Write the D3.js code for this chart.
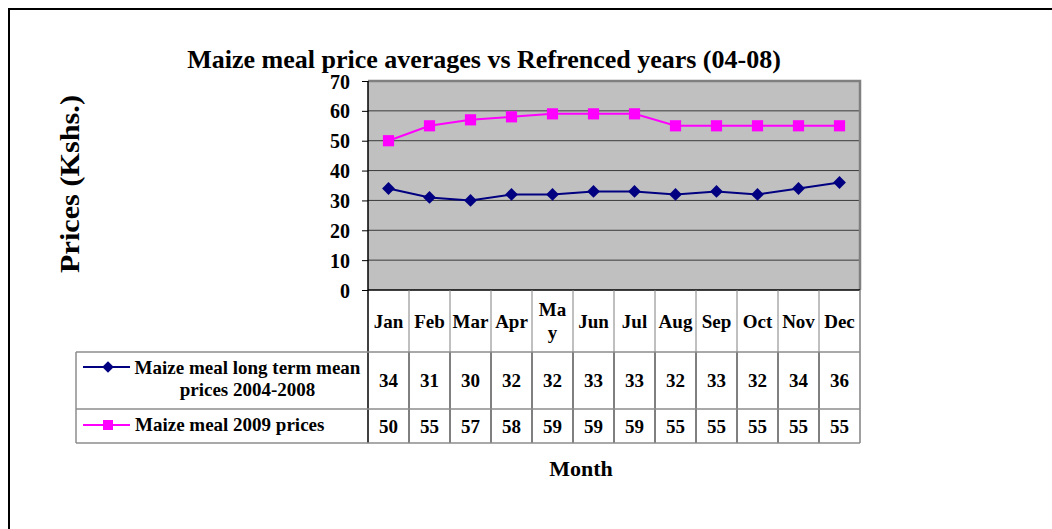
<!DOCTYPE html>
<html>
<head>
<meta charset="utf-8">
<script src="https://cdn.jsdelivr.net/npm/d3@7"></script>
<style>
  body { margin: 0; background: #fff; }
  text { font-family: "Liberation Serif", "Times New Roman", serif; font-weight: bold; fill: #000; }
</style>
</head>
<body>
<div id="chart"></div>
<script>
var months = ["Jan","Feb","Mar","Apr","May","Jun","Jul","Aug","Sep","Oct","Nov","Dec"];
var longTerm = [34,31,30,32,32,33,33,32,33,32,34,36];
var prices2009 = [50,55,57,58,59,59,59,55,55,55,55,55];
var yTicks = [0,10,20,30,40,50,60,70];
var seriesNames = [["Maize meal long term mean", "prices 2004-2008"], ["Maize meal 2009 prices"]];

var w = 1052, h = 529;
var plotLeft = 368, plotRight = 860, plotTop = 81, plotBottom = 290;
var rowY = [290, 352, 409, 443];
var legendLeft = 76;

var svg = d3.select("#chart").append("svg")
  .attr("width", w)
  .attr("height", h);

// outer frame
svg.append("rect")
  .attr("x", 9).attr("y", 9)
  .attr("width", 1100).attr("height", 600)
  .attr("fill", "none").attr("stroke", "#000").attr("stroke-width", 2);

var x = d3.scaleBand().domain(months).range([plotLeft, plotRight]);
var y = d3.scaleLinear().domain([0, 70]).range([plotBottom, plotTop]);

// plot area
svg.append("rect")
  .attr("x", plotLeft).attr("y", plotTop)
  .attr("width", plotRight - plotLeft).attr("height", plotBottom - plotTop)
  .attr("fill", "#c0c0c0");

svg.selectAll("line.grid")
  .data(yTicks.slice(1, -1))
  .enter().append("line")
  .attr("x1", plotLeft).attr("x2", plotRight)
  .attr("y1", function(d) { return y(d); })
  .attr("y2", function(d) { return y(d); })
  .attr("stroke", "#3a3a3a").attr("stroke-width", 1);

// plot border top/right
svg.append("path")
  .attr("d", "M" + plotLeft + "," + plotTop + "H" + plotRight + "V" + plotBottom)
  .attr("fill", "none").attr("stroke", "#808080").attr("stroke-width", 2.5);

// y axis
var yAxis = d3.axisLeft(y).tickValues(yTicks).tickSize(6).tickPadding(12);
var gy = svg.append("g").attr("transform", "translate(" + plotLeft + ",0)").call(yAxis);
gy.select(".domain").remove();
gy.selectAll(".tick line").attr("stroke", "#000");
gy.selectAll(".tick text")
  .attr("font-size", 20)
  .attr("font-family", "Liberation Serif")
  .attr("font-weight", "bold")
  .attr("dy", "0.35em");

// table lines
svg.append("line")
  .attr("x1", plotLeft).attr("x2", plotLeft)
  .attr("y1", plotTop).attr("y2", rowY[3])
  .attr("stroke", "#000").attr("stroke-width", 1.5);
svg.append("line")
  .attr("x1", plotLeft).attr("x2", plotRight)
  .attr("y1", plotBottom).attr("y2", plotBottom)
  .attr("stroke", "#000").attr("stroke-width", 1.5);

var cuts = months.slice(1).map(function(m) { return x(m); });
svg.selectAll("line.hv")
  .data(cuts).enter().append("line")
  .attr("x1", function(d) { return d; }).attr("x2", function(d) { return d; })
  .attr("y1", rowY[0]).attr("y2", rowY[1])
  .attr("stroke", "#808080").attr("stroke-width", 1);
svg.selectAll("line.dv")
  .data(cuts).enter().append("line")
  .attr("x1", function(d) { return d; }).attr("x2", function(d) { return d; })
  .attr("y1", rowY[1]).attr("y2", rowY[3])
  .attr("stroke", "#000").attr("stroke-width", 1);
svg.append("line")
  .attr("x1", plotRight).attr("x2", plotRight)
  .attr("y1", rowY[0]).attr("y2", rowY[3])
  .attr("stroke", "#808080").attr("stroke-width", 1.5);
svg.selectAll("line.hr")
  .data(rowY.slice(1)).enter().append("line")
  .attr("x1", legendLeft).attr("x2", plotRight)
  .attr("y1", function(d) { return d; }).attr("y2", function(d) { return d; })
  .attr("stroke", "#8c8c8c").attr("stroke-width", 1.5);
svg.append("line")
  .attr("x1", legendLeft).attr("x2", legendLeft)
  .attr("y1", rowY[1]).attr("y2", rowY[3])
  .attr("stroke", "#8c8c8c").attr("stroke-width", 1.5);

// header month labels
var cx = function(m) { return x(m) + x.bandwidth() / 2; };
months.forEach(function(m) {
  if (m === "May") {
    svg.append("text").attr("x", cx(m)).attr("y", 316).attr("text-anchor", "middle").attr("font-size", 19).text("Ma");
    svg.append("text").attr("x", cx(m)).attr("y", 339).attr("text-anchor", "middle").attr("font-size", 19).text("y");
  } else {
    svg.append("text").attr("x", cx(m)).attr("y", 328).attr("text-anchor", "middle").attr("font-size", 19).text(m);
  }
});

// data rows (diamonds are squares turned 45 degrees)
var series = [
  { values: longTerm, color: "#000080", shape: d3.symbolSquare, size: 82, rot: 45, rowMid: 387, names: seriesNames[0] },
  { values: prices2009, color: "#ff00ff", shape: d3.symbolSquare, size: 125, rot: 0, rowMid: 433, names: seriesNames[1] }
];

series.forEach(function(s) {
  svg.selectAll(null)
    .data(s.values).enter().append("text")
    .attr("x", function(d, i) { return cx(months[i]); })
    .attr("y", s.rowMid)
    .attr("text-anchor", "middle")
    .attr("font-size", 19)
    .text(function(d) { return d; });
});

// legend cells
var legendRows = [
  { s: series[0], symY: 367, lines: [[247.5, 374], [247.5, 396]] },
  { s: series[1], symY: 425, lines: [[135, 431]] }
];
legendRows.forEach(function(r, k) {
  svg.append("line")
    .attr("x1", 83).attr("x2", 130)
    .attr("y1", r.symY).attr("y2", r.symY)
    .attr("stroke", r.s.color).attr("stroke-width", 2);
  svg.append("path")
    .attr("d", d3.symbol().type(r.s.shape).size(r.s.size * 0.8)())
    .attr("transform", "translate(108," + r.symY + ") rotate(" + r.s.rot + ")")
    .attr("fill", r.s.color);
  r.lines.forEach(function(p, j) {
    svg.append("text")
      .attr("x", p[0]).attr("y", p[1])
      .attr("text-anchor", k === 0 ? "middle" : "start")
      .attr("font-size", 19)
      .text(r.s.names[j]);
  });
});

// series lines and markers
var line = d3.line()
  .x(function(d, i) { return cx(months[i]); })
  .y(function(d) { return y(d); });

series.forEach(function(s) {
  svg.append("path")
    .datum(s.values)
    .attr("d", line)
    .attr("fill", "none")
    .attr("stroke", s.color)
    .attr("stroke-width", 2);
  svg.selectAll(null)
    .data(s.values).enter().append("path")
    .attr("d", d3.symbol().type(s.shape).size(s.size))
    .attr("transform", function(d, i) { return "translate(" + cx(months[i]) + "," + y(d) + ") rotate(" + s.rot + ")"; })
    .attr("fill", s.color);
});

// titles
svg.append("text")
  .attr("x", 484).attr("y", 68)
  .attr("text-anchor", "middle")
  .attr("font-size", 26)
  .text("Maize meal price averages vs Refrenced years (04-08)");

svg.append("text")
  .attr("transform", "translate(79,184) rotate(-90) scale(1.12,1)")
  .attr("text-anchor", "middle")
  .attr("font-size", 27)
  .text("Prices (Kshs.)");

svg.append("text")
  .attr("x", 581).attr("y", 476)
  .attr("text-anchor", "middle")
  .attr("font-size", 22)
  .text("Month");
</script>
</body>
</html>
